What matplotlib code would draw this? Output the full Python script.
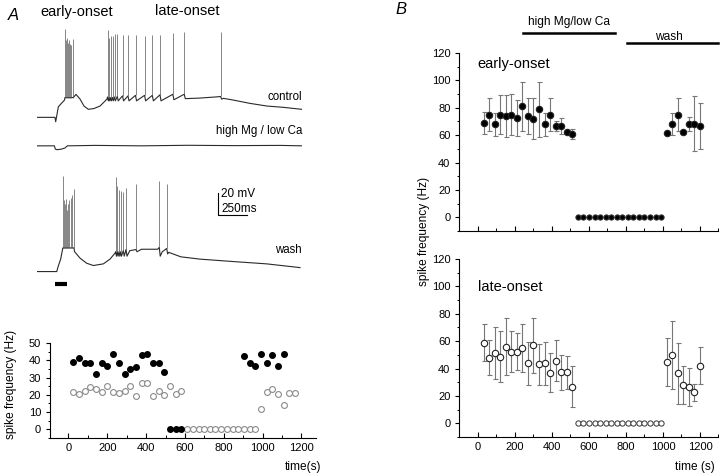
import numpy as np
import matplotlib.pyplot as plt
from matplotlib.ticker import MultipleLocator

plt.rcParams['font.family'] = ['Liberation Sans', 'DejaVu Sans']
plt.rcParams['axes.linewidth'] = 0.8

# ---- panel A traces (time in ms, voltage in mV above rest) ----
# slow membrane potential, knots
ctrl_t = [0, 155, 161, 184, 213, 237, 241, 308, 315, 336, 371, 405, 442, 491, 543, 578, 603,
          608, 615, 621, 627, 635, 641, 651, 657, 668, 675, 692, 700, 737, 746, 784, 793,
          849, 858, 927, 936, 994, 1003, 1060, 1069, 1171, 1180, 1269, 1278,
          1400, 1560, 1582, 1592, 1606, 1692, 1836, 1980, 2123, 2282]
ctrl_v = [0, 0, -4, 9.6, 13, 15.7, 18, 18, 18.2, 20.9, 16.6, 10.3, 7.3, 8, 10.3, 13.9, 16.6,
          18.5, 15, 18, 15, 18, 15, 18, 15, 18.5, 15, 19, 15, 19.5, 15, 19.5, 15,
          20, 15, 20, 15, 20, 15, 20.5, 15, 21, 16, 21, 17,
          17.5, 18.7, 19, 16.5, 17.3, 15.7, 12.7, 10.3, 9.1, 7.3]
# spikes: time, base, peak
ctrl_sp_t = [241, 250, 259, 266, 273, 282, 293, 308, 608, 621, 635, 651, 668, 692, 737, 784,
             849, 927, 994, 1060, 1171, 1269, 1582]
ctrl_sp_base = [18, 18, 18, 18, 18, 18, 18, 18, 18.5, 18, 18, 18, 18.5, 19, 19.5, 19.5,
                20, 20, 20, 20.5, 21, 21, 19]
ctrl_sp_peak = [80, 70, 72, 68, 70, 67, 66, 71, 79, 72, 74, 74, 76, 76, 75, 75,
                75, 74, 75, 75, 77, 78, 78]

mg_t = [0, 150, 158, 175, 210, 240, 262, 500, 900, 1300, 1700, 2100, 2282]
mg_v = [0, 0, -3, -3.5, -3, -2, 0, 0.4, 0, 0.5, 0.2, 0.4, 0]

wash_t = [0, 170, 184, 204, 222, 224, 319, 323, 371, 428, 485, 572, 629, 672,
          678, 685, 692, 699, 707, 714, 721, 728, 744, 752, 767, 776, 800, 853, 862, 900,
          1040, 1054, 1062, 1080, 1118, 1126, 1135, 1240, 1405, 1692, 1980, 2267]
wash_v = [0, 0, 5.2, 11.3, 21.3, 21.5, 21.5, 18.2, 12.2, 7.6, 5.5, 7, 11.3, 16.7,
          18, 14, 18, 14, 18, 14, 18, 14, 19, 14, 20, 14, 19, 20, 18, 20.3,
          20.3, 22, 14, 18, 21, 16, 17.5, 13.4, 11.3, 9.1, 7, 3.6]
wash_sp_t = [224, 233, 241, 250, 259, 267, 276, 289, 302, 319,
             678, 692, 707, 721, 744, 767, 853, 1054, 1118]
wash_sp_base = [21.5, 21.5, 21.5, 21.5, 21.5, 21.5, 21.5, 21.5, 21.5, 21.5,
                18, 18, 18, 18, 19, 20, 20, 22, 21]
wash_sp_peak = [87, 65, 61, 66, 56, 61, 65, 67, 70, 75,
                86, 78, 74, 73, 72.5, 76, 80, 82, 80]

stim = [155, 259]          # stimulus bar (ms)
scale_t, scale_mv = 250, 20

# ---- panel A bottom: spike frequency (Hz) of example cell ----
a_early_t = [25, 54, 84, 113, 142, 172, 201, 230, 259, 289, 318, 347, 377, 406, 435, 464, 494,
             523, 552, 582,
             904, 933, 962, 992, 1021, 1050, 1079, 1109]
a_early_v = [39.1, 41.4, 38.2, 38.2, 32.1, 38.2, 36.8, 43.5, 38.2, 32.1, 34.7, 36.3, 42.9, 43.5,
             38.2, 38.2, 33.4,
             0, 0, 0,
             42.6, 38.2, 36.8, 43.5, 38.2, 42.9, 36.8, 43.5]
a_late_t = [25, 54, 84, 113, 142, 172, 201, 230, 259, 289, 318, 347, 377, 406, 435, 464, 494,
            523, 552, 582,
            611, 640, 670, 699, 728, 757, 787, 816, 845, 874, 904, 933, 962,
            992, 1021, 1050, 1079, 1109, 1138, 1167]
a_late_v = [21.9, 20.4, 22.3, 24.8, 23.3, 21.8, 25.2, 21.4, 21.0, 22.3, 25.2, 19.5, 26.7, 26.7,
            19.5, 22.3, 20.0, 25.2, 20.4, 22.3,
            0, 0, 0, 0, 0, 0, 0, 0, 0, 0, 0, 0, 0,
            12, 21.4, 23.5, 20.6, 14.3, 21, 21]

# ---- panel B: population mean +- error ----
b_t = [30, 60, 90, 120, 150, 180, 210, 240, 270, 300, 330, 360, 390, 420, 450, 480, 510,
       540, 570, 600, 630, 660, 690, 720, 750, 780, 810, 840, 870, 900, 930, 960, 990,
       1020, 1050, 1080, 1110, 1140, 1170, 1200]
b_early = [69, 75, 68, 75, 74, 75, 72.7, 81, 74, 72, 79, 68, 75, 66.7, 66.7, 62, 61,
           0, 0, 0, 0, 0, 0, 0, 0, 0, 0, 0, 0, 0, 0, 0, 0,
           61.3, 68.4, 75, 62, 68, 68.4, 66.7]
b_early_err = [8, 12, 8.5, 14, 15, 15, 13, 18, 13.5, 15, 20, 8.5, 12, 3.5, 6, 1, 3.5,
               0, 0, 0, 0, 0, 0, 0, 0, 0, 0, 0, 0, 0, 0, 0, 0,
               1, 8, 12, 1, 5, 20, 17]
b_late = [59, 48, 51, 48.7, 56, 52.3, 52.3, 54.8, 43.8, 57, 43, 43.8, 37, 45.8, 37.2, 37.2, 26.8,
          0, 0, 0, 0, 0, 0, 0, 0, 0, 0, 0, 0, 0, 0, 0, 0,
          44.5, 50, 36.5, 28, 26.3, 22.6, 42]
b_late_err = [13.5, 13, 19, 18.5, 21, 15, 13.5, 17.5, 15.5, 20, 15, 15.5, 14, 15, 13, 12.2, 15,
              0, 0, 0, 0, 0, 0, 0, 0, 0, 0, 0, 0, 0, 0, 0, 0,
              17.5, 25, 22.5, 14, 14, 6, 13.5]
mg_period = [243, 740]
wash_period = [805, 1300]

W, H = 720, 474
fig = plt.figure(figsize=(7.2, 4.74), dpi=100)

# traces
ax = fig.add_axes([37 / W, 179 / H, 265 / W, 275 / H])
ax.set_xlim(0, 2284)
ax.set_ylim(0, 250)
ax.axis('off')
tc = '#2a2a2a'
for tt, vv, st, sb, spk, off in [(ctrl_t, ctrl_v, ctrl_sp_t, ctrl_sp_base, ctrl_sp_peak, 161.5),
                                 (wash_t, wash_v, wash_sp_t, wash_sp_base, wash_sp_peak, 21.3)]:
    ax.plot(tt, np.array(vv) + off, color=tc, lw=0.8)
    ax.vlines(st, np.array(sb) + off, np.array(spk) + off, color='#555555', lw=0.5)
ax.plot(mg_t, np.array(mg_v) + 135.6, color=tc, lw=0.8)
ax.plot(stim, [10, 10], color='k', lw=3, solid_capstyle='butt')
ax.plot([1560, 1560, 1560 + scale_t], [72.7 + scale_mv, 72.7, 72.7], color='k', lw=0.8)
ax.text(1586, 91.5, '20 mV', fontsize=8.5, va='center')
ax.text(1586, 78, '250ms', fontsize=8.5, va='center')
ax.text(2284, 180, 'control', fontsize=8.3, ha='right', va='center')
ax.text(2284, 149.4, 'high Mg / low Ca', fontsize=8.3, ha='right', va='center')
ax.text(2284, 41, 'wash', fontsize=8.3, ha='right', va='center')

fig.text(8 / W, 1 - 16 / H, 'A', fontsize=12, style='italic', va='center')
fig.text(395 / W, 1 - 9 / H, 'B', fontsize=12, style='italic', va='center')
fig.text(40 / W, 1 - 12 / H, 'early-onset', fontsize=10.5, va='center')
fig.text(155 / W, 1 - 11 / H, 'late-onset', fontsize=10.5, va='center')


def style(a):
    for s in ['top', 'right']:
        a.spines[s].set_visible(False)
    a.tick_params(axis='x', which='major', direction='in', length=3.5, width=0.8, labelsize=8)
    a.tick_params(axis='x', which='minor', direction='in', length=2, width=0.7)
    a.tick_params(axis='y', which='major', direction='out', length=3, width=0.8, labelsize=8)
    a.tick_params(axis='y', which='minor', direction='out', length=1.8, width=0.7)


# A bottom scatter
axa = fig.add_axes([50 / W, 36 / H, 266 / W, 95 / H])
style(axa)
axa.plot(a_late_t, a_late_v, 'o', mfc='white', mec='#8a8a8a', ms=4.2, mew=0.8, ls='none')
axa.plot(a_early_t, a_early_v, 'o', color='k', ms=4, ls='none')
axa.set_xlim(-95, 1275)
axa.set_ylim(-5, 50)
axa.set_xticks(range(0, 1201, 200))
axa.xaxis.set_minor_locator(MultipleLocator(100))
axa.set_yticks(range(0, 51, 10))
axa.yaxis.set_minor_locator(MultipleLocator(5))
axa.set_ylabel('spike frequency (Hz)', fontsize=8.6)
axa.yaxis.set_label_coords(-0.125, 0.56)
axa.set_xlabel('time(s)', fontsize=8.6, ha='right', va='center')
axa.xaxis.set_label_coords(1.02, -0.305)

# B
axb1 = fig.add_axes([459.5 / W, 243 / H, 259 / W, 178 / H])
axb2 = fig.add_axes([459.5 / W, 37 / H, 259 / W, 178 / H])
b_t = np.array(b_t)
for a, v, e, face, label, ly in [(axb1, b_early, b_early_err, 'k', 'early-onset', 0.94),
                                 (axb2, b_late, b_late_err, 'white', 'late-onset', 0.84)]:
    style(a)
    v = np.array(v)
    e = np.array(e)
    nz = v > 0
    a.errorbar(b_t[nz], v[nz], yerr=e[nz], fmt='o', ms=4.6, mfc=face, mec='#222222', mew=0.8,
               ecolor='#777777', elinewidth=0.8, capsize=1.8, capthick=0.8)
    a.plot(b_t[~nz], v[~nz], 'o', ms=3.8, mfc=face, mec='#333333', mew=0.7, ls='none')
    a.set_xlim(-100, 1300)
    a.set_ylim(-10, 120)
    a.set_xticks(range(0, 1201, 200))
    a.xaxis.set_minor_locator(MultipleLocator(100))
    a.set_yticks(range(0, 121, 20))
    a.yaxis.set_minor_locator(MultipleLocator(10))
    a.text(0.07, ly, label, transform=a.transAxes, fontsize=10.5, va='center')
axb1.tick_params(axis='x', labelbottom=False)
axb2.set_xlabel('time (s)', fontsize=8.6, ha='right', va='center')
axb2.xaxis.set_label_coords(0.985, -0.17)
fig.text(424 / W, 1 - 231 / H, 'spike frequency (Hz)', fontsize=8.6, rotation=90,
         ha='center', va='center')

tr = axb1.get_xaxis_transform()
axb1.plot(mg_period, [1.112, 1.112], transform=tr, clip_on=False, color='k', lw=1.8)
axb1.plot(wash_period, [1.056, 1.056], transform=tr, clip_on=False, color='k', lw=1.8)
axb1.text(np.mean(mg_period), 1.174, 'high Mg/low Ca', transform=tr, fontsize=8.6,
          ha='center', va='center')
axb1.text(1032, 1.09, 'wash', transform=tr, fontsize=8.6, ha='center', va='center')

fig.savefig('out.png', dpi=100)
